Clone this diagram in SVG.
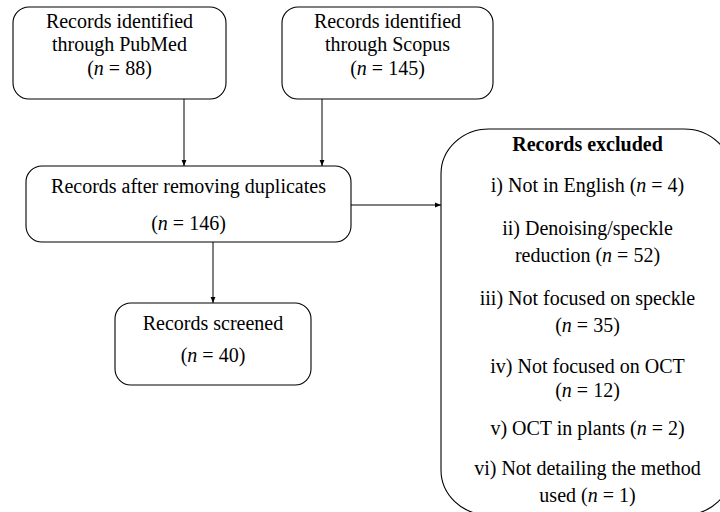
<svg xmlns="http://www.w3.org/2000/svg" width="720" height="512" viewBox="0 0 720 512">
<style>
.box{fill:#fff;stroke:#000;stroke-width:1.1}
text{font-family:"Liberation Serif","Times New Roman",serif;font-size:20px;fill:#000;text-anchor:middle}
.b{font-weight:bold}
.conn line{stroke:#000;stroke-width:1}
</style>
<defs>
<marker id="ah" viewBox="0 0 10 10" refX="10" refY="5" markerWidth="6" markerHeight="6" markerUnits="userSpaceOnUse" orient="auto">
<path d="M0,1 L10,5 L0,9 z" fill="#000"/>
</marker>
</defs>
<rect width="720" height="512" fill="#fff"/>
<g id="pubmed">
<rect class="box" x="13" y="7" width="213" height="92" rx="16" ry="16"/>
<text x="119.5" y="28">Records identified</text>
<text x="119.5" y="51">through PubMed</text>
<text x="119.5" y="75">(<tspan font-style="italic">n</tspan> = 88)</text>
</g>
<g id="scopus">
<rect class="box" x="282" y="7" width="211" height="92" rx="16" ry="16"/>
<text x="387.5" y="28">Records identified</text>
<text x="387.5" y="51">through Scopus</text>
<text x="387.5" y="75">(<tspan font-style="italic">n</tspan> = 145)</text>
</g>
<g id="dedup">
<rect class="box" x="26" y="166" width="325" height="76" rx="16" ry="16"/>
<text x="188.5" y="193">Records after removing duplicates</text>
<text x="188.5" y="230">(<tspan font-style="italic">n</tspan> = 146)</text>
</g>
<g id="screened">
<rect class="box" x="115" y="303" width="196" height="82" rx="16" ry="16"/>
<text x="213" y="330">Records screened</text>
<text x="213" y="362">(<tspan font-style="italic">n</tspan> = 40)</text>
</g>
<g id="excluded">
<rect class="box" x="441" y="129" width="291" height="386" rx="48" ry="45"/>
<text class="b" x="587.5" y="151">Records excluded</text>
<text x="587.5" y="192">i) Not in English (<tspan font-style="italic">n</tspan> = 4)</text>
<text x="587.5" y="235">ii) Denoising/speckle</text>
<text x="587.5" y="262">reduction (<tspan font-style="italic">n</tspan> = 52)</text>
<text x="587.5" y="305">iii) Not focused on speckle</text>
<text x="587.5" y="332">(<tspan font-style="italic">n</tspan> = 35)</text>
<text x="587.5" y="373">iv) Not focused on OCT</text>
<text x="587.5" y="397">(<tspan font-style="italic">n</tspan> = 12)</text>
<text x="587.5" y="435">v) OCT in plants (<tspan font-style="italic">n</tspan> = 2)</text>
<text x="587.5" y="475">vi) Not detailing the method</text>
<text x="587.5" y="502">used (<tspan font-style="italic">n</tspan> = 1)</text>
</g>
<g class="conn" id="connectors">
<line x1="184" y1="99" x2="184" y2="166" marker-end="url(#ah)"/>
<line x1="322" y1="99" x2="322" y2="166" marker-end="url(#ah)"/>
<line x1="351" y1="205" x2="441" y2="205" marker-end="url(#ah)"/>
<line x1="213" y1="242" x2="213" y2="303" marker-end="url(#ah)"/>
</g>
</svg>
